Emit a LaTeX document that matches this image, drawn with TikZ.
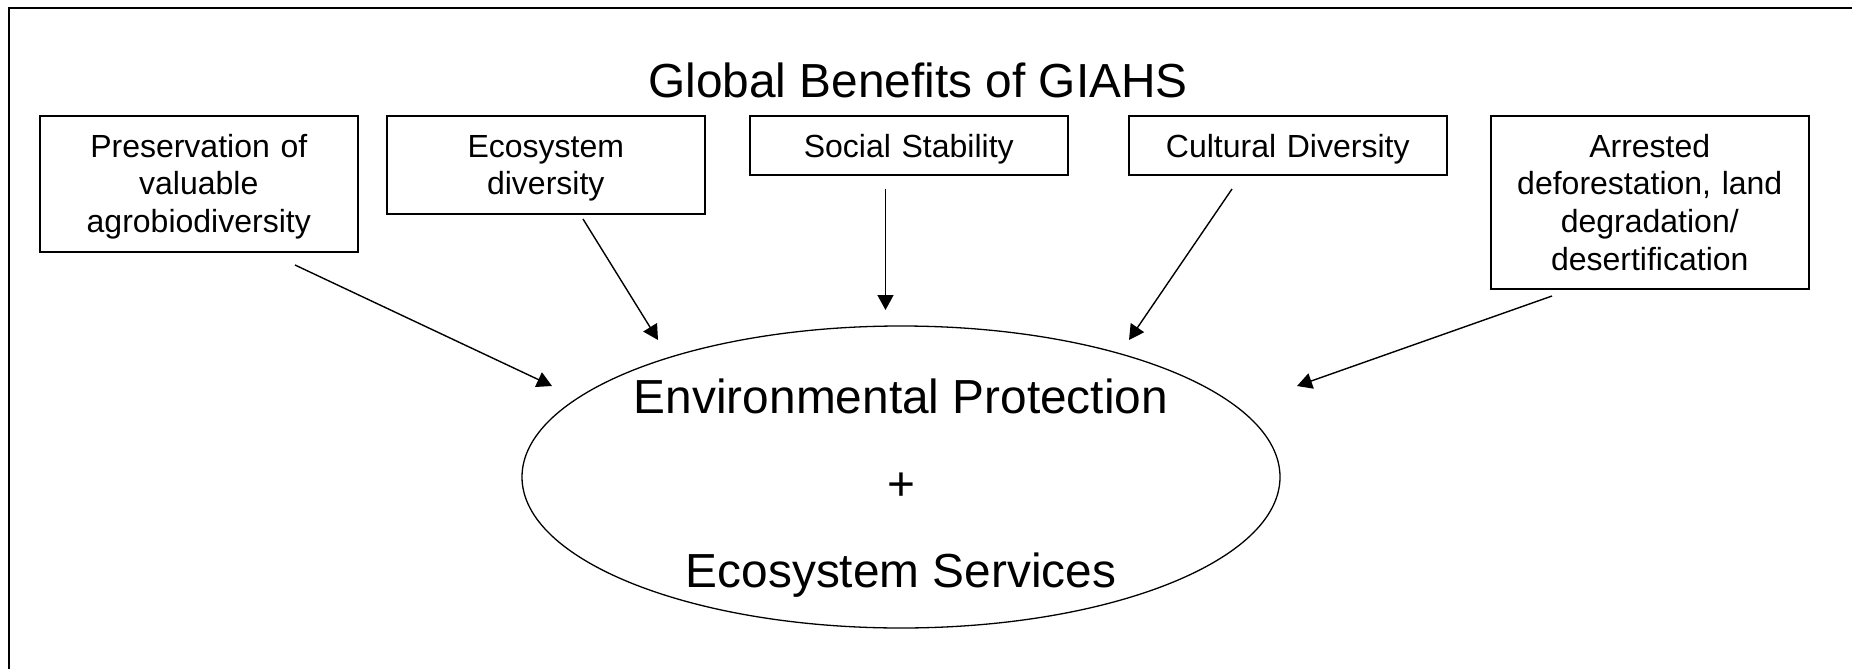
\documentclass[tikz,border=0pt]{standalone}
\usepackage{fontspec}
\setmainfont{Liberation Sans}
\usetikzlibrary{shapes.geometric,arrows.meta}

% benefit box: #1 = height below the first baseline (box height minus 41.5pt)
\tikzset{
  benefit/.style={draw, line width=1.5pt, anchor=north west, inner sep=0pt,
    text width=318pt, align=center, text height=41.5pt, text depth=#1,
    font=\fontsize{32}{37.6}\selectfont},
  bigtext/.style={anchor=base, inner sep=0pt,
    font=\fontsize{47.8}{57}\selectfont},
  flow/.style={line width=1.4pt, -{Triangle[length=15pt,width=16pt]}},
}

\begin{document}
\begin{tikzpicture}[x=1pt, y=-1pt]
  \useasboundingbox (0,0) rectangle (1852,669);
  \clip (0,0) rectangle (1852,669);

  % outer frame (runs off the right and bottom edges)
  \draw[line width=2pt] (8.5,8.5) rectangle (1880,700);

  % heading
  \node[bigtext] (title) at (918,97) {Global Benefits of GIAHS};

  % the five benefit boxes
  \node[benefit=94.5pt] (b1) at (39,115)
    {Preservation of\\valuable\\agrobiodiversity};
  \node[benefit=56.5pt] (b2) at (386,115)
    {Ecosystem\\diversity};
  \node[benefit=17.5pt] (b3) at (749,115)
    {Social Stability};
  \node[benefit=17.5pt] (b4) at (1128,115)
    {Cultural Diversity};
  \node[benefit=131.5pt] (b5) at (1490,115)
    {Arrested\\deforestation, land\\degradation/\\desertification};

  % central outcome
  \node[draw, ellipse, line width=1.3pt, inner sep=0pt,
        minimum width=758pt, minimum height=302pt] (core) at (901,477) {};
  \node[bigtext] (ep)   at (901,413) {Environmental Protection};
  \node[bigtext] (plus) at (901,500) {+};
  \node[bigtext] (es)   at (901,587) {Ecosystem Services};

  % arrow end points
  \coordinate (s1) at (295,265);   \coordinate (e1) at (552,386);
  \coordinate (s2) at (583,219);   \coordinate (e2) at (658,340);
  \coordinate (s3) at (885.5,189); \coordinate (e3) at (885.5,310);
  \coordinate (s4) at (1232,189);  \coordinate (e4) at (1129,340);
  \coordinate (s5) at (1552,296);  \coordinate (e5) at (1297,386);

  \draw[flow] (s1) -- (e1);
  \draw[flow] (s2) -- (e2);
  \draw[flow] (s3) -- (e3);
  \draw[flow] (s4) -- (e4);
  \draw[flow] (s5) -- (e5);
\end{tikzpicture}
\end{document}
